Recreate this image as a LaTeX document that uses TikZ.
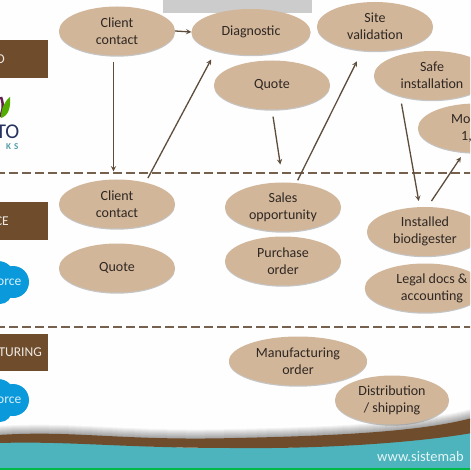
\documentclass[tikz,border=0pt]{standalone}
\usepackage{fontspec}
\setmainfont{Carlito}
\usetikzlibrary{shapes.geometric,shadows}
\definecolor{bubblefill}{HTML}{D2B69A}
\definecolor{boxbrown}{HTML}{6F4C2B}
\definecolor{linebrown}{HTML}{5E4C3B}
\definecolor{dashbrown}{HTML}{75614E}
\definecolor{inktext}{HTML}{2E2722}
\definecolor{cloudblue}{HTML}{0A9ADB}
\definecolor{seateal}{HTML}{4DB4BE}
\definecolor{logonavy}{HTML}{27335F}
\definecolor{logoteal}{HTML}{4F9CA6}
\tikzset{
	bubble/.style={ellipse, fill=bubblefill, minimum width=116pt, minimum height=49pt, inner sep=0pt, align=center, text=inktext, font=\fontsize{14}{17}\selectfont, drop shadow={shadow xshift=0pt, shadow yshift=-1.2pt, opacity=0.45, fill=gray}},
	flow/.style={draw=linebrown, line width=1.3pt, ->, >=stealth},
	divider/.style={draw=dashbrown, line width=1.8pt, dash pattern=on 9pt off 4pt},
	areabox/.style={fill=boxbrown},
	arealabel/.style={anchor=east, inner sep=0pt, text=white!88!boxbrown, font=\fontsize{13.5}{15}\selectfont},
}
\begin{document}
\begin{tikzpicture}[x=1pt, y=-1pt]
	\clip (0, 0) rectangle (470, 470);
	\fill[white!99!bubblefill] (0, 0) rectangle (470, 470);
	\fill[gray!40] (163, 0) rectangle (312, 13);

	% area boxes
	\fill[areabox] (0, 40) rectangle (48, 78);
	\fill[areabox] (0, 202) rectangle (48, 240);
	\fill[areabox] (0, 334) rectangle (48, 371);
	\node[arealabel] (areaone) at (5, 59) {O};
	\node[arealabel] (areatwo) at (9, 221) {CE};
	\node[arealabel] (areathree) at (42, 352) {TURING};

	% logo
	\draw[draw=logonavy!60!purple, line width=2.5pt] (1, 97) .. controls (4, 105) and (3, 113) .. (-1, 117);
	\fill[green!35!olive] (10, 97) .. controls (11, 108) and (8, 116) .. (1, 118) .. controls (1, 109) and (4, 102) .. (10, 97);
	\node[anchor=east, inner sep=0pt, text=logonavy, font=\fontsize{21}{21}\selectfont] (logoname) at (19.5, 132) {TO};
	\node[anchor=east, inner sep=0pt, text=logoteal, font=\bfseries\fontsize{9}{9}\selectfont] (logosub) at (18.5, 147) {K\,\,S};

	% clouds
	\foreach \y/\n in {0/cloudone, 118/cloudtwo} {
		\fill[cloudblue] (-2, 278+\y) circle (17);
		\fill[cloudblue] (13, 282+\y) circle (16);
		\fill[cloudblue] (0, 292+\y) circle (12);
		\node[anchor=east, inner sep=0pt, text=white!85!cloudblue, font=\fontsize{13.5}{15}\selectfont] (\n) at (21.5, 282+\y) {orce};
	}

	% dividers
	\draw[divider] (-4, 173) -- (474, 173);
	\draw[divider] (-4, 327) -- (474, 327);

	% footer
	\foreach \s in {2,4,...,18} {
		\draw[line width=\s pt, draw=black, opacity=0.045] (-2, 435) .. controls (75, 430) and (120, 441) .. (235, 438) .. controls (330, 436) and (420, 432) .. (472, 418);
	}
	\fill[seateal] (-2, 440) .. controls (75, 440) and (120, 448) .. (235, 448) .. controls (330, 448) and (420, 442) .. (472, 432) -- (472, 472) -- (-2, 472) -- cycle;
	\fill[boxbrown] (-2, 435) .. controls (75, 430) and (120, 441) .. (235, 438) .. controls (330, 436) and (420, 432) .. (472, 418) -- (472, 433) .. controls (420, 442) and (330, 449) .. (235, 448) .. controls (120, 448) and (75, 441) .. (-2, 443) -- cycle;
	\fill[green!45!teal] (-2, 468) rectangle (472, 472);
	\node[anchor=west, inner sep=0pt, text=white!85!seateal, font=\fontsize{14.5}{16}\selectfont] (website) at (377, 457) {www.sistemab};

	% top row
	\node[bubble] (contactone) at (117, 31) {Client\\contact};
	\node[bubble, minimum width=119pt, minimum height=46pt] (diagnostic) at (251, 32) {Diagnostic};
	\node[bubble] (site) at (375, 26.5) {Site\\validation};
	\node[bubble] (quoteone) at (272, 85) {Quote};
	\node[bubble] (safe) at (432, 75.5) {Safe\\installation};
	\node[bubble] (monitor) at (476, 128) {};
	\node[anchor=west, inner sep=0pt, align=left, text=inktext, font=\fontsize{14}{17}\selectfont] (monitortext) at (451, 128) {Mo\\\hspace*{10pt}1,};

	% middle row
	\node[bubble] (contacttwo) at (117, 204) {Client\\contact};
	\node[bubble] (quotetwo) at (117, 268) {Quote};
	\node[bubble] (sales) at (283, 207) {Sales\\opportunity};
	\node[bubble] (purchase) at (283, 261) {Purchase\\order};
	\node[bubble] (installed) at (425, 231.5) {Installed\\biodigester};
	\node[bubble] (legal) at (425, 288) {\hspace*{14pt}Legal docs \&\\\hspace*{14pt}accounting};

	% bottom row
	\node[bubble, minimum width=138pt] (manufacturing) at (298, 361) {Manufacturing\\order};
	\node[bubble, minimum width=114pt] (distribution) at (392, 400) {Distribution\\/ shipping};

	% arrows
	\draw[flow] (contactone.east) -- (diagnostic.west);
	\draw[flow, shorten <=6pt, shorten >=8pt] (contactone.262) -- (contacttwo.98);
	\draw[flow, shorten <=5pt, shorten >=10pt] (contacttwo.37) -- (diagnostic.208);
	\draw[flow, shorten <=7pt, shorten >=18pt] (quoteone.south) -- (sales.north);
	\draw[flow, shorten <=3pt, shorten >=12pt] (sales.61) -- (site.242);
	\draw[flow, shorten <=7.5pt, shorten >=6pt] (safe.213) -- (installed.102);
	\draw[flow, shorten <=7pt, shorten >=6pt] (installed.84) -- (monitor.244);
\end{tikzpicture}
\end{document}
